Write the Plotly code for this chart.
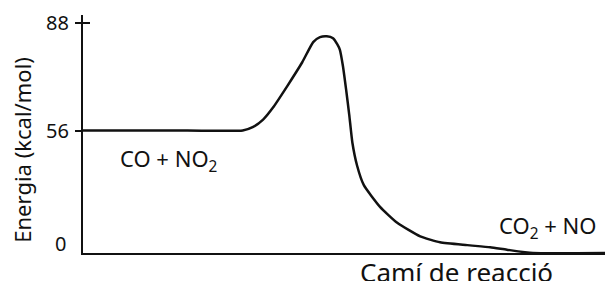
import plotly.graph_objects as go

# Reaction coordinate (arbitrary units 0-100) and energy (schematic units, 0 and 56 on scale)
reaction_coord = [0, 20, 30.6, 32.5, 34.5, 36.4, 39.1, 42.0, 44.1, 45.4, 46.7, 47.9, 48.7, 49.2,
                  49.8, 50.4, 51.0, 51.6, 52.5, 53.8, 56.9, 60.2, 64.6, 68.4, 73.6, 78.0, 81.2,
                  86.2, 100]
energy = [56, 56, 56, 57.5, 61.0, 66.5, 76.2, 87.2, 96.4, 98.7, 99.1, 98.2, 95.5, 93.0,
          85.4, 74.8, 63.3, 50.5, 40.0, 31.0, 21.1, 13.8, 7.6, 4.9, 3.6, 2.6, 1.5,
          0, 0]

tick_vals = [56, 105.1]
tick_text = ["56", "88"]
zero_label = "0"
reactants_label = "CO + NO<sub>2</sub>"
products_label = "CO<sub>2</sub> + NO"
y_title = "Energia (kcal/mol)"
x_title = "Camí de reacció"

FONT = "Noto Sans"
BLACK = "#111111"

fig = go.Figure()
fig.add_trace(go.Scatter(
    x=reaction_coord, y=energy, mode="lines",
    line=dict(color=BLACK, width=2.5, shape="spline", smoothing=0.5),
    showlegend=False, hoverinfo="skip",
))
# invisible trace on overlay axis (for the inside tick of 88)
fig.add_trace(go.Scatter(x=[0], y=[0], yaxis="y2", mode="markers",
                         marker=dict(opacity=0), showlegend=False, hoverinfo="skip"))

fig.update_layout(
    width=605, height=281,
    margin=dict(l=83, r=0, t=15, b=28),
    paper_bgcolor="white", plot_bgcolor="white",
    font=dict(family=FONT, color=BLACK, size=20),
    xaxis=dict(range=[0, 100], showline=True, linecolor=BLACK, linewidth=2,
               showgrid=False, zeroline=False, showticklabels=False, ticks=""),
    yaxis=dict(range=[0, 108.8], showline=True, linecolor=BLACK, linewidth=2,
               showgrid=False, zeroline=False, tickvals=tick_vals, ticktext=tick_text,
               ticks="outside", ticklen=6, tickwidth=2, tickcolor=BLACK,
               ticklabelstandoff=2,
               tickfont=dict(size=20, family=FONT, color=BLACK)),
    yaxis2=dict(range=[0, 108.8], overlaying="y", side="left", showline=False,
                showgrid=False, zeroline=False, tickvals=[tick_vals[1]],
                ticks="inside", ticklen=7, tickwidth=2, tickcolor=BLACK,
                showticklabels=False),
    annotations=[
        dict(text=zero_label, xref="paper", yref="y", x=0, y=0, xanchor="right",
             yanchor="middle", xshift=-15, yshift=10, showarrow=False,
             font=dict(size=20, family=FONT, color=BLACK)),
        dict(text=reactants_label, x=16.3, y=42.5, xref="x", yref="y", showarrow=False,
             font=dict(size=22, family=FONT, color=BLACK)),
        dict(text=products_label, x=88.9, y=11.9, xref="x", yref="y", showarrow=False,
             font=dict(size=22, family=FONT, color=BLACK)),
        dict(text=x_title, xref="paper", yref="paper", x=0.715, y=0, xanchor="center",
             yanchor="top", yshift=1, showarrow=False,
             font=dict(size=26, family=FONT, color=BLACK)),
        dict(text=y_title, xref="paper", yref="paper", x=0, y=0.455, xanchor="center",
             yanchor="middle", xshift=-61, yshift=-5, textangle=-90, showarrow=False,
             font=dict(size=22, family=FONT, color=BLACK)),
    ],
)

fig.write_html("out.html",
               config={"displayModeBar": False},
               post_script="document.body.style.margin='0';document.body.style.overflow='hidden';")
